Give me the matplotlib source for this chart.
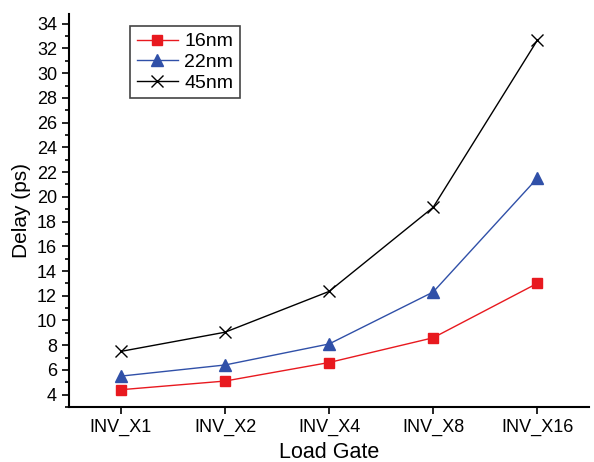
import matplotlib
matplotlib.use("Agg")
import matplotlib.pyplot as plt
from matplotlib.ticker import MultipleLocator

plt.rcParams["font.family"] = ["Liberation Sans", "DejaVu Sans"]

gates = ["INV_X1", "INV_X2", "INV_X4", "INV_X8", "INV_X16"]
delay_16nm = [4.4, 5.1, 6.6, 8.6, 13.0]
delay_22nm = [5.5, 6.4, 8.1, 12.3, 21.5]
delay_45nm = [7.5, 9.05, 12.35, 19.15, 32.65]

fig = plt.figure(figsize=(5.94, 4.62), dpi=100)
ax = fig.add_axes([0.116, 0.119, 0.876, 0.851])

x = range(len(gates))
ax.plot(x, delay_16nm, color="#e8191f", lw=1, marker="s", ms=7, label="16nm")
ax.plot(x, delay_22nm, color="#3050a8", lw=1, marker="^", ms=8, label="22nm")
ax.plot(x, delay_45nm, color="black", lw=1, marker="x", ms=9, mew=1, label="45nm")

ax.set_xlim(-0.5, 4.5)
ax.set_ylim(3, 34.8)
ax.set_xticks(list(x))
ax.set_xticklabels(gates)
ax.yaxis.set_major_locator(MultipleLocator(2))
ax.yaxis.set_minor_locator(MultipleLocator(1))
ax.tick_params(axis="both", labelsize=13, width=1.2, length=5)
ax.tick_params(axis="y", which="minor", width=1.2, length=3)
ax.spines["top"].set_visible(False)
ax.spines["right"].set_visible(False)
ax.spines["left"].set_linewidth(1.5)
ax.spines["bottom"].set_linewidth(1.5)

ax.set_xlabel("Load Gate", fontsize=15.5, labelpad=4)
ax.set_ylabel("Delay (ps)", fontsize=15)

leg = ax.legend(loc="upper left", bbox_to_anchor=(0.117, 0.969), borderaxespad=0,
                fontsize=14, fancybox=False, edgecolor="#444444", framealpha=1,
                handlelength=2.15, handletextpad=0.3, borderpad=0.35,
                labelspacing=0.15)
leg.get_frame().set_linewidth(1.2)

fig.savefig("out.png", dpi=100)
